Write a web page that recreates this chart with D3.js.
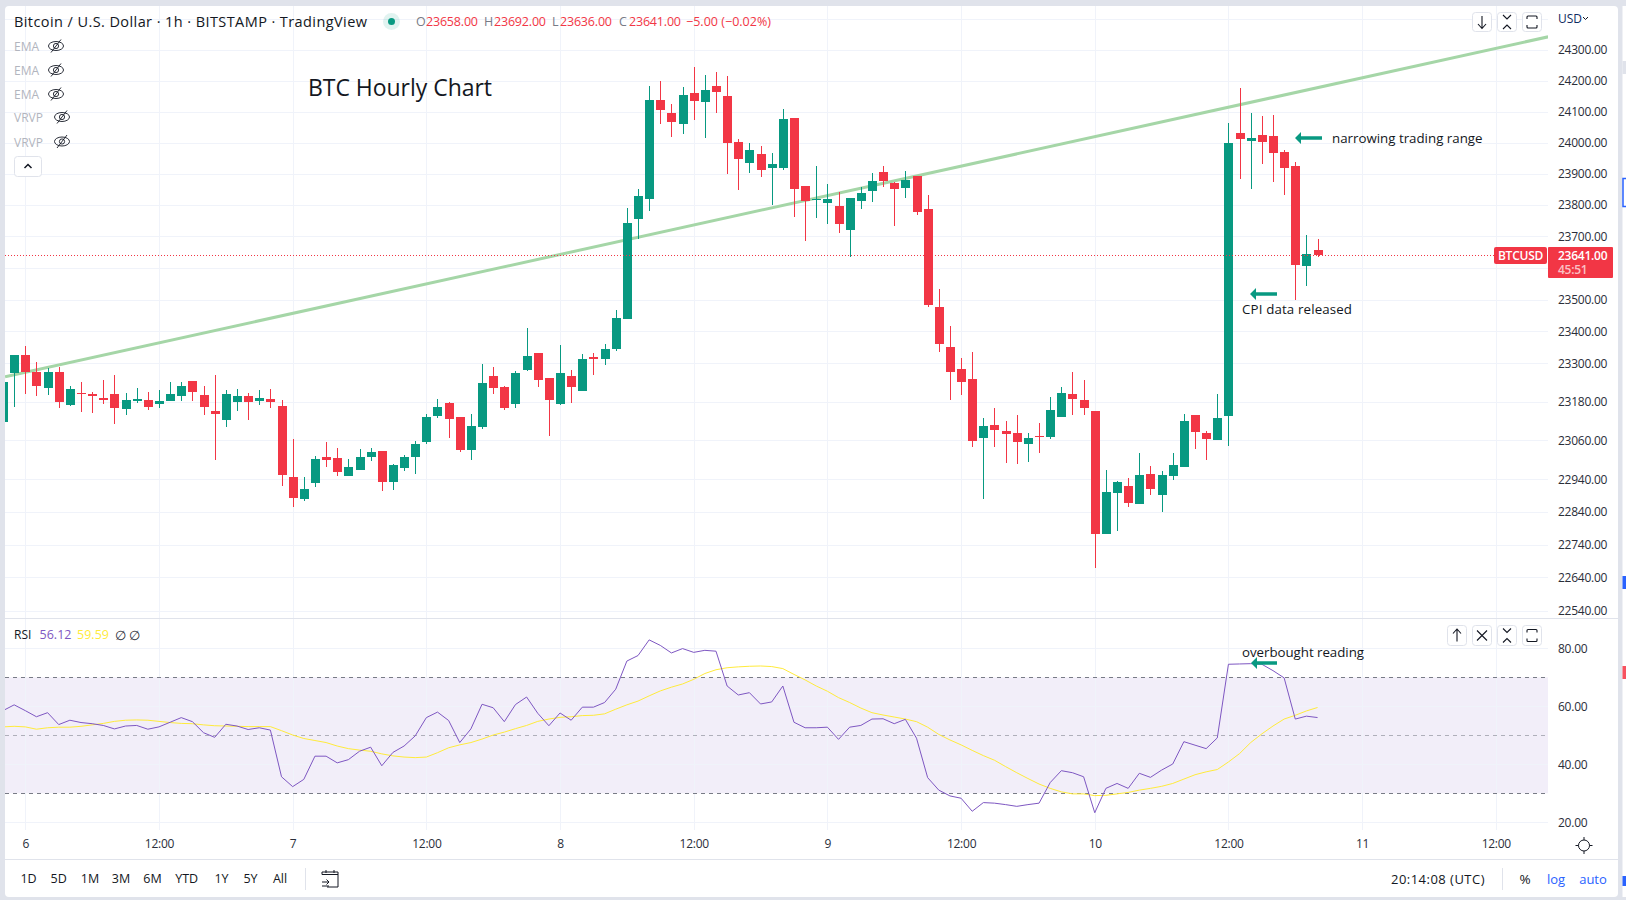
<!DOCTYPE html>
<html>
<head>
<meta charset="utf-8">
<title>BTC Hourly Chart</title>
<script src="https://cdn.jsdelivr.net/npm/d3@7"></script>
<style>
  html, body { margin: 0; padding: 0; background: #e0e3eb; }
  svg { display: block; font-family: "Open Sans", sans-serif; }
</style>
</head>
<body>
<div id="chart"></div>
<script>
// hours counted from 6th 00:00, one candle per hour
var firstHour = -2;
var opens = [
  23118,23270,23326,23273,23223,23273,23170,23208,23205,23192,
  23205,23158,23183,23186,23174,23183,23198,23245,23201,23152,
  23124,23180,23198,23183,23189,23167,22948,22880,22929,23009,
  23006,22951,22969,23009,23028,22932,22975,23009,23056,23136,
  23177,23133,23031,23102,23261,23226,23174,23279,23333,23254,
  23174,23261,23214,23320,23314,23345,23439,23755,23819,24138,
  24096,24060,24160,24131,24183,24151,24002,23935,23963,23918,
  23918,24079,23861,23816,23806,23797,23720,23813,23845,23906,
  23870,23854,23893,23787,23477,23351,23282,23251,23068,23108,
  23090,23084,23050,23074,23071,23133,23205,23186,23152,22773,
  22898,22920,22865,22957,22893,22951,22979,23139,23084,23062,
  23136,24031,24005,24025,24021,23970,23925,23606,23658];
var highs = [
  23245,23326,23354,23304,23286,23289,23229,23242,23211,23248,
  23264,23208,23223,23211,23217,23242,23242,23245,23229,23264,
  23217,23220,23208,23217,23220,23186,23065,22948,23013,23056,
  23037,23003,23034,23037,23028,22988,23016,23059,23143,23189,
  23180,23133,23143,23298,23289,23229,23276,23411,23333,23254,
  23358,23279,23330,23333,23361,23467,23791,23851,24183,24199,
  24125,24180,24245,24219,24228,24215,24012,23999,23989,23967,
  24108,24079,23861,23925,23867,23842,23822,23858,23903,23925,
  23874,23909,23893,23832,23534,23417,23317,23336,23130,23161,
  23121,23139,23084,23115,23195,23226,23273,23248,23152,22969,
  22935,22945,23022,22982,22966,23022,23143,23139,23090,23205,
  24063,24176,24096,24086,24089,23976,23938,23704,23692];
var lows = [
  23115,23164,23205,23198,23201,23161,23167,23149,23146,23174,
  23111,23139,23177,23155,23161,23183,23183,23183,23139,23000,
  23102,23152,23124,23170,23161,22920,22856,22874,22917,22979,
  22951,22951,22969,22997,22905,22908,22966,22957,23050,23130,
  23068,23025,23000,23096,23205,23155,23161,23276,23226,23074,
  23170,23177,23214,23264,23295,23339,23439,23692,23781,24060,
  24018,24028,24073,24015,24096,23899,23848,23903,23890,23800,
  23912,23762,23685,23758,23740,23711,23635,23787,23810,23858,
  23733,23822,23768,23477,23336,23186,23201,23040,22880,23040,
  22991,22988,22994,23022,23065,23133,23139,23139,22670,22773,
  22782,22856,22865,22893,22840,22938,22979,23034,23000,23062,
  23043,23883,23851,23931,23874,23832,23499,23543,23636];
var closes = [
  23242,23326,23273,23229,23273,23180,23220,23205,23198,23186,
  23161,23186,23189,23164,23183,23205,23229,23211,23164,23143,
  23205,23198,23180,23192,23180,22954,22883,22911,23003,23000,
  22963,22979,23009,23025,22932,22985,23009,23050,23133,23164,
  23127,23031,23105,23239,23223,23161,23270,23323,23248,23186,
  23270,23226,23314,23314,23345,23442,23743,23829,24138,24105,
  24067,24154,24134,24170,24164,23999,23947,23976,23912,23931,
  24076,23851,23813,23819,23819,23740,23822,23838,23877,23877,
  23851,23880,23778,23483,23361,23273,23242,23059,23105,23093,
  23081,23056,23068,23071,23155,23208,23189,23161,22773,22902,
  22932,22868,22954,22911,22954,22985,23121,23087,23065,23130,
  23999,24012,24015,24002,23967,23918,23610,23644,23641];
var rsiValues = [
  58.5,60.5,58.5,56.4,57.8,53.7,55.2,54.4,54.0,53.4,
  52.2,53.2,53.4,52.1,52.9,54.5,56.1,54.7,50.9,49.3,
  53.8,53.2,52.0,52.6,51.8,35.7,32.3,34.8,42.8,42.8,
  40.5,41.6,44.5,45.9,39.5,44.1,46.3,49.8,56.1,58.0,
  55.1,47.5,52.2,60.7,59.5,54.7,60.6,63.2,57.6,53.3,
  57.7,55.2,59.7,59.7,61.3,65.9,75.6,77.5,82.9,81.0,
  78.4,79.9,78.6,79.3,79.0,67.0,63.9,64.7,60.8,61.5,
  67.0,54.5,52.6,52.6,52.8,48.6,52.8,53.4,55.6,55.7,
  54.0,55.5,49.0,35.4,31.1,29.1,28.3,23.8,26.8,26.6,
  26.1,25.5,26.1,26.6,33.7,37.8,37.1,35.7,23.3,31.7,
  33.4,31.7,36.9,35.5,38.0,40.1,47.8,46.6,45.4,49.1,
  74.5,74.6,74.7,74.5,72.3,69.8,55.6,56.6,56.12];
var rsiMaValues = [
  52.9,53.1,52.9,52.1,52.6,52.8,52.8,53.1,53.6,54.1,
  54.8,55.2,55.3,55.2,54.8,54.4,54.1,54.0,53.6,53.3,
  53.2,53.1,53.0,53.0,53.0,51.6,50.1,48.9,48.2,47.5,
  46.3,45.4,44.9,44.5,43.6,42.9,42.5,42.3,42.5,44.0,
  45.7,46.7,47.5,48.7,50.1,51.1,52.3,53.4,54.8,55.6,
  56.2,56.4,56.8,56.9,57.4,59.0,60.5,61.8,63.6,65.3,
  66.6,67.7,69.3,71.3,72.6,73.3,73.6,73.8,73.9,73.7,
  73.0,71.0,69.1,67.0,65.2,63.0,61.3,59.4,57.8,57.0,
  56.3,55.6,54.7,52.8,50.3,48.4,46.7,44.8,43.0,41.4,
  39.2,37.1,35.1,33.2,31.7,30.5,29.8,29.8,29.2,29.3,
  29.8,30.3,31.1,31.7,32.4,33.4,34.9,36.4,37.4,38.2,
  40.8,43.7,47.5,50.5,53.2,55.6,56.9,58.4,59.59];

var priceTicks = [24300,24200,24100,24000,23900,23800,23700,23500,23400,23300,23180,23060,22940,22840,22740,22640,22540];
var priceGrid = [24400,24300,24200,24100,24000,23900,23800,23700,23600,23500,23400,23300,23180,23060,22940,22840,22740,22640,22540];
var rsiTicks = [80,60,40,20];
var rsiLevels = [70,50,30];
var timeTickHours = [0,12,24,36,48,60,72,84,96,108,120,132,144];
var timeTickLabels = ["6","12:00","7","12:00","8","12:00","9","12:00","10","12:00","11","12:00"];
var trendHours = [-1.82,136.7];
var trendPrices = [23258,24343];
var lastPrice = 23641;
var rangeButtons = ["1D","5D","1M","3M","6M","YTD","1Y","5Y","All"];
var rangeCentres = [28.5,58.6,90,121,152.5,186.7,221.5,250.5,280];
var legendNames = ["EMA","EMA","EMA","VRVP","VRVP"];

var GREEN = "#089981", RED = "#f23645", TEXT = "#131722", AXIS = "#2a2e39", GRID = "#f0f3fa", BORDER = "#e0e3eb";
var paneLeft = 5, paneRight = 1548, paneTop = 6, divider = 618, rsiBottom = 830, timeBottom = 859, panelRight = 1618, panelBottom = 897;

var svg = d3.select("#chart").append("svg").attr("width", 1626).attr("height", 900);
var hours = opens.map(function(d, i) { return firstHour + i; });

var x = d3.scaleLinear().domain([0, 132]).range([25.3, 1495.8]);
var yPrice = d3.scaleLog().domain([24300, 22540]).range([50, 610.5]);
var yRsi = d3.scaleLinear().domain([80, 20]).range([648.3, 822.3]);

function label(parent, px, py, str, size, color, anchor) {
  return parent.append("text").attr("x", px).attr("y", py).attr("dy", "0.35em")
    .attr("font-size", size).attr("fill", color).attr("text-anchor", anchor || "start").text(str);
}

// frame
svg.append("rect").attr("width", 1626).attr("height", 900).attr("fill", BORDER);
svg.append("rect").attr("x", paneLeft).attr("y", paneTop).attr("width", panelRight - paneLeft).attr("height", panelBottom - paneTop).attr("rx", 4).attr("fill", "#fff");
svg.append("rect").attr("x", 1622.5).attr("y", paneTop).attr("width", 4).attr("height", panelBottom - paneTop).attr("fill", "#fff");
svg.append("rect").attr("x", 1622.5).attr("y", 61).attr("width", 4).attr("height", 13).attr("fill", BORDER);
svg.append("rect").attr("x", 1623).attr("y", 178.5).attr("width", 4).attr("height", 28).attr("fill", "#fff").attr("stroke", "#2962ff").attr("stroke-width", 1.5);
svg.append("rect").attr("x", 1622.5).attr("y", 576).attr("width", 4).attr("height", 13).attr("fill", "#2962ff");
svg.append("rect").attr("x", 1622.5).attr("y", 666).attr("width", 4).attr("height", 13).attr("fill", "#f7525f");
svg.append("rect").attr("x", 1622.5).attr("y", 876).attr("width", 4).attr("height", 10).attr("fill", "#2962ff");

var defs = svg.append("defs");
defs.append("clipPath").attr("id", "priceClip").append("rect").attr("x", paneLeft).attr("y", paneTop).attr("width", paneRight - paneLeft).attr("height", divider - paneTop);
defs.append("clipPath").attr("id", "rsiClip").append("rect").attr("x", paneLeft).attr("y", divider).attr("width", paneRight - paneLeft).attr("height", rsiBottom - divider);

var pricePane = svg.append("g").attr("clip-path", "url(#priceClip)");
var rsiPane = svg.append("g").attr("clip-path", "url(#rsiClip)");

// grid
pricePane.selectAll(".hgrid").data(priceGrid).enter().append("line")
  .attr("x1", paneLeft).attr("x2", paneRight)
  .attr("y1", function(d) { return Math.round(yPrice(d)) + 0.5; }).attr("y2", function(d) { return Math.round(yPrice(d)) + 0.5; })
  .attr("stroke", GRID);
pricePane.selectAll(".vgrid").data(timeTickHours).enter().append("line")
  .attr("x1", function(d) { return Math.round(x(d)) + 0.5; }).attr("x2", function(d) { return Math.round(x(d)) + 0.5; })
  .attr("y1", paneTop).attr("y2", divider)
  .attr("stroke", GRID);

rsiPane.append("rect").attr("x", paneLeft).attr("width", paneRight - paneLeft)
  .attr("y", yRsi(70)).attr("height", yRsi(30) - yRsi(70)).attr("fill", "#7e57c2").attr("fill-opacity", 0.1);
rsiPane.selectAll(".hgrid").data(rsiTicks).enter().append("line")
  .attr("x1", paneLeft).attr("x2", paneRight)
  .attr("y1", function(d) { return Math.round(yRsi(d)) + 0.5; }).attr("y2", function(d) { return Math.round(yRsi(d)) + 0.5; })
  .attr("stroke", GRID);
rsiPane.selectAll(".vgrid").data(timeTickHours).enter().append("line")
  .attr("x1", function(d) { return Math.round(x(d)) + 0.5; }).attr("x2", function(d) { return Math.round(x(d)) + 0.5; })
  .attr("y1", divider).attr("y2", rsiBottom)
  .attr("stroke", GRID);
rsiPane.selectAll(".level").data(rsiLevels).enter().append("line")
  .attr("x1", paneLeft).attr("x2", paneRight)
  .attr("y1", function(d) { return Math.round(yRsi(d)) + 0.5; }).attr("y2", function(d) { return Math.round(yRsi(d)) + 0.5; })
  .attr("stroke", "#787b86")
  .attr("stroke-opacity", function(d) { return d === 50 ? 0.55 : 1; })
  .attr("stroke-dasharray", "4 4");

// trend line sits under the candles
pricePane.append("line")
  .attr("x1", x(trendHours[0])).attr("y1", yPrice(trendPrices[0]))
  .attr("x2", x(trendHours[1])).attr("y2", yPrice(trendPrices[1]))
  .attr("stroke", "#a5d6a7").attr("stroke-width", 3);

// candles
var candles = pricePane.selectAll(".candle").data(hours).enter().append("g").attr("shape-rendering", "crispEdges");
candles.append("rect")
  .attr("x", function(d) { return Math.round(x(d)); })
  .attr("width", 1)
  .attr("y", function(d, i) { return Math.round(yPrice(highs[i])); })
  .attr("height", function(d, i) { return Math.round(yPrice(lows[i])) - Math.round(yPrice(highs[i])); })
  .attr("fill", function(d, i) { return closes[i] >= opens[i] ? GREEN : RED; });
candles.append("rect")
  .attr("x", function(d) { return Math.round(x(d)) - 4; })
  .attr("width", 9)
  .attr("y", function(d, i) { return Math.round(yPrice(Math.max(opens[i], closes[i]))); })
  .attr("height", function(d, i) { return Math.max(1, Math.round(yPrice(Math.min(opens[i], closes[i]))) - Math.round(yPrice(Math.max(opens[i], closes[i])))); })
  .attr("fill", function(d, i) { return closes[i] >= opens[i] ? GREEN : RED; });

// last price line
pricePane.append("line").attr("x1", paneLeft).attr("x2", 1494)
  .attr("y1", Math.round(yPrice(lastPrice)) + 0.5).attr("y2", Math.round(yPrice(lastPrice)) + 0.5)
  .attr("stroke", RED).attr("stroke-dasharray", "1 2");

// rsi lines
var rsiLine = d3.line().x(function(d, i) { return x(hours[i]); }).y(function(d) { return yRsi(d); });
rsiPane.append("path").attr("d", rsiLine(rsiMaValues)).attr("fill", "none").attr("stroke", "#ffeb3b").attr("stroke-width", 1);
rsiPane.append("path").attr("d", rsiLine(rsiValues)).attr("fill", "none").attr("stroke", "#7e57c2").attr("stroke-width", 1);

// axes
function styleAxis(g, color, size) {
  g.select(".domain").remove();
  g.selectAll(".tick line").remove();
  g.selectAll("text").attr("fill", color).attr("font-size", size).attr("font-family", '"Open Sans", sans-serif');
}
var priceAxis = d3.axisRight(yPrice).tickValues(priceTicks).tickFormat(d3.format(".2f")).tickSize(0).tickPadding(0);
svg.append("g").attr("transform", "translate(1558,0)").call(priceAxis).call(styleAxis, AXIS, 12).selectAll("text").attr("letter-spacing", "-0.25px");
var rsiAxis = d3.axisRight(yRsi).tickValues(rsiTicks).tickFormat(d3.format(".2f")).tickSize(0).tickPadding(0);
svg.append("g").attr("transform", "translate(1558,0)").call(rsiAxis).call(styleAxis, AXIS, 12).selectAll("text").attr("letter-spacing", "-0.25px");
var timeAxis = d3.axisBottom(x).tickValues(timeTickHours.slice(0, timeTickLabels.length))
  .tickFormat(function(d, i) { return timeTickLabels[i]; }).tickSize(0).tickPadding(0);
svg.append("g").attr("transform", "translate(0,839)").call(timeAxis).call(styleAxis, AXIS, 12).selectAll("text").attr("letter-spacing", "-0.25px");

// dividers
svg.append("line").attr("x1", paneLeft).attr("x2", panelRight).attr("y1", divider + 0.5).attr("y2", divider + 0.5).attr("stroke", BORDER);
svg.append("line").attr("x1", paneLeft).attr("x2", panelRight).attr("y1", timeBottom + 0.5).attr("y2", timeBottom + 0.5).attr("stroke", BORDER);
svg.append("line").attr("x1", 305.5).attr("x2", 305.5).attr("y1", 868).attr("y2", 890).attr("stroke", BORDER);
svg.append("line").attr("x1", 1502.5).attr("x2", 1502.5).attr("y1", 868).attr("y2", 890).attr("stroke", BORDER);

// header
label(svg, 14, 22, "Bitcoin / U.S. Dollar · 1h · BITSTAMP · TradingView", 14.5, TEXT).attr("textLength", 353).attr("lengthAdjust", "spacing");
svg.append("circle").attr("cx", 391.5).attr("cy", 21.5).attr("r", 8.5).attr("fill", GREEN).attr("fill-opacity", 0.12);
svg.append("circle").attr("cx", 391.5).attr("cy", 21.5).attr("r", 3.5).attr("fill", GREEN);
var ohlcLetters = ["O", "H", "L", "C"];
var ohlcValues = [opens[118], highs[118], lows[118], closes[118]];
var ohlcLetterX = [416, 484, 552, 619];
ohlcLetters.forEach(function(d, i) {
  label(svg, ohlcLetterX[i], 22, d, 12.5, "#787b86");
  label(svg, ohlcLetterX[i] + (d === "L" ? 8 : 10), 22, ohlcValues[i].toFixed(2), 12.5, RED).attr("textLength", 52);
});
label(svg, 686, 22, "−5.00 (−0.02%)", 12.5, RED).attr("textLength", 85);

// hidden indicator legend
var legendY = [47, 71, 95, 118, 142.5], eyeX = [56, 56, 56, 62, 62];
function eye(cx, cy) {
  var g = svg.append("g").attr("transform", "translate(" + cx + "," + cy + ")").attr("fill", "none").attr("stroke", TEXT).attr("stroke-width", 0.9);
  g.append("ellipse").attr("rx", 7.5).attr("ry", 4.5);
  g.append("circle").attr("r", 2.6);
  g.append("line").attr("x1", 5).attr("y1", -6.5).attr("x2", -5).attr("y2", 6.5);
}
legendNames.forEach(function(d, i) {
  label(svg, 14, legendY[i], d, 12, "#b2b5be");
  eye(eyeX[i], legendY[i] - 1);
});
function button(bx, by, w, h) {
  var g = svg.append("g").attr("transform", "translate(" + bx + "," + by + ")");
  g.append("rect").attr("x", 0.5).attr("y", 0.5).attr("width", w - 1).attr("height", h - 1).attr("rx", 3).attr("fill", "#fff").attr("stroke", BORDER);
  return g.append("g").attr("transform", "translate(" + w / 2 + "," + h / 2 + ")").attr("fill", "none").attr("stroke", TEXT).attr("stroke-width", 1.1);
}
button(14, 156, 28, 21).append("path").attr("d", "M-3.5,1.5 L0,-2 L3.5,1.5").attr("stroke-width", 1.5);

function arrowGlyph(g, dir) {
  g.append("path").attr("d", "M0,-6 V6 M-4," + (dir * 2) + " L0," + (dir * 6.5) + " L4," + (dir * 2));
}
function collapseGlyph(g) {
  g.append("path").attr("d", "M-4,-7 L0,-3 L4,-7 M-4,7 L0,3 L4,7");
}
function frameGlyph(g) {
  g.append("path").attr("d", "M-5,-3 V-5 Q-5,-6 -4,-6 H4 Q5,-6 5,-5 V-3 M-5,3 V5 Q-5,6 -4,6 H4 Q5,6 5,5 V3");
}
arrowGlyph(button(1472, 12, 20, 20), 1);
collapseGlyph(button(1497, 12, 20, 20));
frameGlyph(button(1522, 12, 20, 20));
arrowGlyph(button(1447, 625, 20, 21), -1);
button(1472, 625, 20, 21).append("path").attr("d", "M-5,-5 L5,5 M5,-5 L-5,5");
collapseGlyph(button(1497, 625, 20, 21));
frameGlyph(button(1522, 625, 20, 21));

// text annotations
label(svg, 308, 88, "BTC Hourly Chart", 23, TEXT).attr("textLength", 184);
label(svg, 1332, 138, "narrowing trading range", 13.3, TEXT).attr("textLength", 150.5);
label(svg, 1242, 309, "CPI data released", 13.3, TEXT).attr("textLength", 110);
label(svg, 1242, 652, "overbought reading", 13.3, TEXT).attr("textLength", 122);
function noteArrow(tip, tail, ay) {
  svg.append("path").attr("fill", GREEN)
    .attr("d", "M" + tip + "," + ay + " L" + (tip + 6) + "," + (ay - 6) + " L" + (tip + 6) + "," + (ay - 1.8) + " L" + tail + "," + (ay - 1.8) + " L" + tail + "," + (ay + 1.8) + " L" + (tip + 6) + "," + (ay + 1.8) + " L" + (tip + 6) + "," + (ay + 6) + " Z");
}
noteArrow(1295, 1322, 138);
noteArrow(1250, 1277, 294);
noteArrow(1251, 1277, 663);

// rsi legend
label(svg, 14, 635, "RSI", 12, TEXT);
label(svg, 39.5, 635, "56.12", 12.5, "#7e57c2").attr("textLength", 32);
label(svg, 77, 635, "59.59", 12.5, "#ffeb3b").attr("textLength", 32);
label(svg, 115, 635, "∅", 13, "#2a2e39");
label(svg, 129, 635, "∅", 13, "#2a2e39");

// price scale tags
svg.append("rect").attr("x", 1494).attr("y", 247).attr("width", 53).attr("height", 17).attr("rx", 2).attr("fill", RED);
label(svg, 1520.5, 255.5, "BTCUSD", 12, "#fff", "middle").attr("font-weight", 600).attr("letter-spacing", "-0.25px");
svg.append("rect").attr("x", 1548).attr("y", 247).attr("width", 65).attr("height", 31).attr("rx", 1).attr("fill", RED);
label(svg, 1558, 255.5, lastPrice.toFixed(2), 12, "#fff").attr("font-weight", 600).attr("letter-spacing", "-0.25px");
label(svg, 1558, 269.5, "45:51", 12, "#fff").attr("fill-opacity", 0.7).attr("font-weight", 600).attr("letter-spacing", "-0.25px");
label(svg, 1558, 18.5, "USD", 12, "#0f2a60");
svg.append("path").attr("d", "M1583,17 L1585.5,19.5 L1588,17").attr("fill", "none").attr("stroke", TEXT);

// sun icon on the time scale
var sun = svg.append("g").attr("transform", "translate(1584,845.5)").attr("fill", "none").attr("stroke", TEXT);
sun.append("circle").attr("r", 5.5);
sun.append("path").attr("d", "M0,-8.5 V-5.5 M0,5.5 V8.5 M-8.5,0 H-5.5 M5.5,0 H8.5");

// bottom toolbar
rangeButtons.forEach(function(d, i) {
  label(svg, rangeCentres[i], 879, d, 12.5, TEXT, "middle");
});
var cal = svg.append("g").attr("transform", "translate(330,879)").attr("fill", "none").attr("stroke", TEXT).attr("stroke-width", 1);
cal.append("path").attr("d", "M-8,-4.5 V-7 H8 V8 H-3 M-8,-4.5 H8 M-4,-9 V-6 M4,-9 V-6");
cal.append("path").attr("d", "M-8,3 H-1 M-3.5,0.5 L-1,3 L-3.5,5.5 M-1,7 H-8");
label(svg, 1391, 879, "20:14:08 (UTC)", 13, TEXT).attr("textLength", 93.5);
label(svg, 1525, 879, "%", 13.5, TEXT, "middle");
label(svg, 1556, 879, "log", 13, "#2962ff", "middle");
label(svg, 1593, 879, "auto", 13, "#2962ff", "middle");
</script>
</body>
</html>
